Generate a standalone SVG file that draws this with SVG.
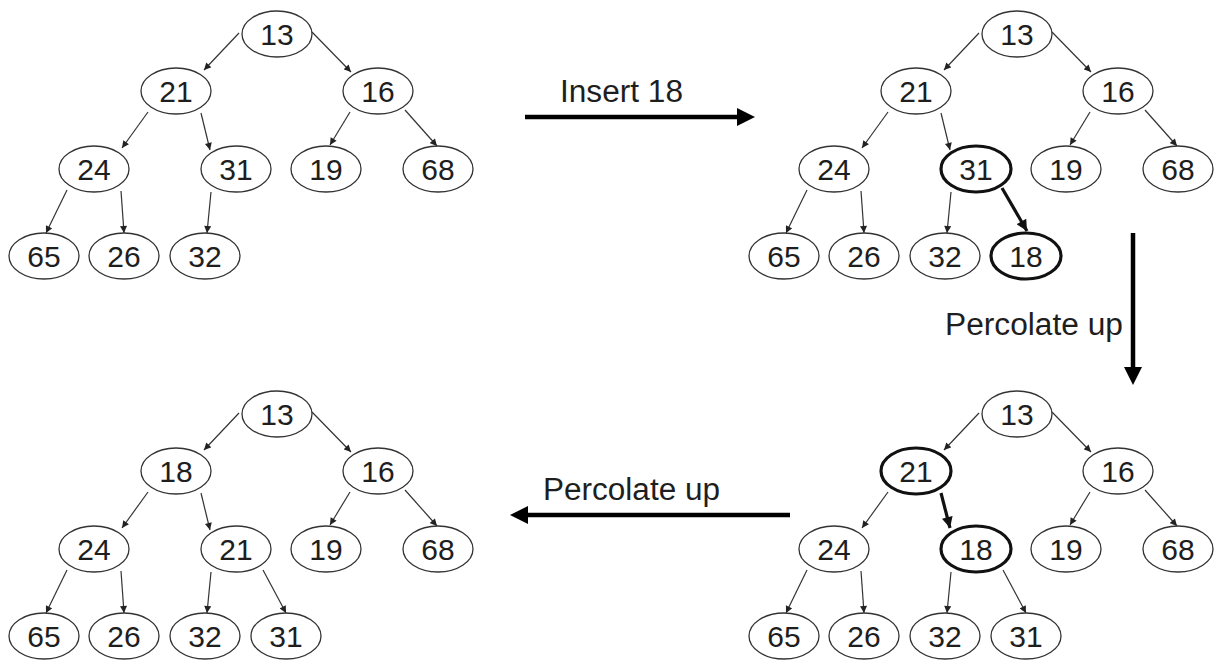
<svg xmlns="http://www.w3.org/2000/svg" width="1218" height="667" viewBox="0 0 1218 667">
<defs>
<style>
.n{fill:#fff;stroke:#333;stroke-width:1.3}
.b{fill:#fff;stroke:#111;stroke-width:3.2}
.t{font-family:"Liberation Sans",Arial,sans-serif;font-size:30px;fill:#1e1e1e;text-anchor:middle}
.lbl{font-family:"Liberation Sans",Arial,sans-serif;font-size:31px;fill:#1e1e1e}
.e{stroke:#333;stroke-width:1.2;fill:none;marker-end:url(#ah)}
.eb{stroke:#111;stroke-width:3.2;fill:none;marker-end:url(#ahb)}
.big{stroke:#000;stroke-width:4.5;fill:none;marker-end:url(#ahbig)}
</style>
<marker id="ah" viewBox="0 0 10 10" refX="10" refY="5" markerWidth="8" markerHeight="7" markerUnits="userSpaceOnUse" orient="auto"><path d="M0,0 L10,5 L0,10 z" fill="#222"/></marker>
<marker id="ahb" viewBox="0 0 10 10" refX="10" refY="5" markerWidth="12" markerHeight="11" markerUnits="userSpaceOnUse" orient="auto"><path d="M0,0 L10,5 L0,10 z" fill="#111"/></marker>
<marker id="ahbig" viewBox="0 0 10 10" refX="0" refY="5" markerWidth="21" markerHeight="18" markerUnits="userSpaceOnUse" orient="auto"><path d="M0,0 L10,5 L0,10 z" fill="#000"/></marker>
</defs>
<rect width="1218" height="667" fill="#fff"/>

<g id="connectors">
<!-- top-left tree -->
<path class="e" d="M239,33 L204,70"/>
<path class="e" d="M312,32 L351,72"/>
<path class="e" d="M148,112 L122,148"/>
<path class="e" d="M201,113 L210,150"/>
<path class="e" d="M350,112 L330,145"/>
<path class="e" d="M405,110 L437,146"/>
<path class="e" d="M67,190 L46,233"/>
<path class="e" d="M121,191 L124,233"/>
<path class="e" d="M211,192 L207,233"/>
<!-- top-right tree -->
<path class="e" d="M979,33 L944,70"/>
<path class="e" d="M1052,32 L1091,72"/>
<path class="e" d="M888,112 L862,148"/>
<path class="e" d="M941,113 L950,150"/>
<path class="e" d="M1090,112 L1070,145"/>
<path class="e" d="M1145,110 L1177,146"/>
<path class="e" d="M807,190 L786,233"/>
<path class="e" d="M861,191 L864,233"/>
<path class="e" d="M951,192 L947,233"/>
<path class="eb" d="M1002,188 L1027,231"/>
<!-- bottom-right tree -->
<path class="e" d="M979,413 L944,450"/>
<path class="e" d="M1052,412 L1091,452"/>
<path class="e" d="M888,492 L862,528"/>
<path class="eb" d="M941,493 L950,528"/>
<path class="e" d="M1090,492 L1070,525"/>
<path class="e" d="M1145,490 L1177,526"/>
<path class="e" d="M807,570 L786,613"/>
<path class="e" d="M861,571 L864,613"/>
<path class="e" d="M951,572 L947,613"/>
<path class="e" d="M1003,570 L1026,613"/>
<!-- bottom-left tree -->
<path class="e" d="M239,413 L204,450"/>
<path class="e" d="M312,412 L351,452"/>
<path class="e" d="M148,492 L122,528"/>
<path class="e" d="M201,493 L210,530"/>
<path class="e" d="M350,492 L330,525"/>
<path class="e" d="M405,490 L437,526"/>
<path class="e" d="M67,570 L46,613"/>
<path class="e" d="M121,571 L124,613"/>
<path class="e" d="M211,572 L207,613"/>
<path class="e" d="M263,570 L286,613"/>
<!-- step arrows -->
<path class="big" d="M525,117 L737,117"/>
<path class="big" d="M1133,233 L1133,367"/>
<path class="big" d="M790,515 L528,515"/>
<text class="lbl" x="560" y="102" textLength="123" lengthAdjust="spacingAndGlyphs">Insert 18</text>
<text class="lbl" x="945" y="335" textLength="178" lengthAdjust="spacingAndGlyphs">Percolate up</text>
<text class="lbl" x="543" y="500" textLength="177" lengthAdjust="spacingAndGlyphs">Percolate up</text>
</g>

<!-- top-left tree nodes -->
<g id="tl-13"><ellipse class="n" cx="277" cy="34" rx="35" ry="23"/><text class="t" x="277" y="45">13</text></g>
<g id="tl-21"><ellipse class="n" cx="176" cy="91" rx="35" ry="23"/><text class="t" x="176" y="102">21</text></g>
<g id="tl-16"><ellipse class="n" cx="378" cy="91" rx="35" ry="23"/><text class="t" x="378" y="102">16</text></g>
<g id="tl-24"><ellipse class="n" cx="94" cy="169" rx="35" ry="23"/><text class="t" x="94" y="180">24</text></g>
<g id="tl-31"><ellipse class="n" cx="236" cy="169" rx="35" ry="23"/><text class="t" x="236" y="180">31</text></g>
<g id="tl-19"><ellipse class="n" cx="326" cy="169" rx="35" ry="23"/><text class="t" x="326" y="180">19</text></g>
<g id="tl-68"><ellipse class="n" cx="438" cy="169" rx="35" ry="23"/><text class="t" x="438" y="180">68</text></g>
<g id="tl-65"><ellipse class="n" cx="44" cy="256" rx="35" ry="23"/><text class="t" x="44" y="267">65</text></g>
<g id="tl-26"><ellipse class="n" cx="124" cy="256" rx="35" ry="23"/><text class="t" x="124" y="267">26</text></g>
<g id="tl-32"><ellipse class="n" cx="205" cy="256" rx="35" ry="23"/><text class="t" x="205" y="267">32</text></g>

<!-- top-right tree nodes -->
<g id="tr-13"><ellipse class="n" cx="1017" cy="34" rx="35" ry="23"/><text class="t" x="1017" y="45">13</text></g>
<g id="tr-21"><ellipse class="n" cx="916" cy="91" rx="35" ry="23"/><text class="t" x="916" y="102">21</text></g>
<g id="tr-16"><ellipse class="n" cx="1118" cy="91" rx="35" ry="23"/><text class="t" x="1118" y="102">16</text></g>
<g id="tr-24"><ellipse class="n" cx="834" cy="169" rx="35" ry="23"/><text class="t" x="834" y="180">24</text></g>
<g id="tr-31"><ellipse class="b" cx="976" cy="169" rx="35" ry="23"/><text class="t" x="976" y="180">31</text></g>
<g id="tr-19"><ellipse class="n" cx="1066" cy="169" rx="35" ry="23"/><text class="t" x="1066" y="180">19</text></g>
<g id="tr-68"><ellipse class="n" cx="1178" cy="169" rx="35" ry="23"/><text class="t" x="1178" y="180">68</text></g>
<g id="tr-65"><ellipse class="n" cx="784" cy="256" rx="35" ry="23"/><text class="t" x="784" y="267">65</text></g>
<g id="tr-26"><ellipse class="n" cx="864" cy="256" rx="35" ry="23"/><text class="t" x="864" y="267">26</text></g>
<g id="tr-32"><ellipse class="n" cx="945" cy="256" rx="35" ry="23"/><text class="t" x="945" y="267">32</text></g>
<g id="tr-18"><ellipse class="b" cx="1026" cy="256" rx="35" ry="23"/><text class="t" x="1026" y="267">18</text></g>

<!-- bottom-right tree nodes -->
<g id="br-13"><ellipse class="n" cx="1017" cy="414" rx="35" ry="23"/><text class="t" x="1017" y="425">13</text></g>
<g id="br-21"><ellipse class="b" cx="916" cy="471" rx="35" ry="23"/><text class="t" x="916" y="482">21</text></g>
<g id="br-16"><ellipse class="n" cx="1118" cy="471" rx="35" ry="23"/><text class="t" x="1118" y="482">16</text></g>
<g id="br-24"><ellipse class="n" cx="834" cy="549" rx="35" ry="23"/><text class="t" x="834" y="560">24</text></g>
<g id="br-18"><ellipse class="b" cx="976" cy="549" rx="35" ry="23"/><text class="t" x="976" y="560">18</text></g>
<g id="br-19"><ellipse class="n" cx="1066" cy="549" rx="35" ry="23"/><text class="t" x="1066" y="560">19</text></g>
<g id="br-68"><ellipse class="n" cx="1178" cy="549" rx="35" ry="23"/><text class="t" x="1178" y="560">68</text></g>
<g id="br-65"><ellipse class="n" cx="784" cy="636" rx="35" ry="23"/><text class="t" x="784" y="647">65</text></g>
<g id="br-26"><ellipse class="n" cx="864" cy="636" rx="35" ry="23"/><text class="t" x="864" y="647">26</text></g>
<g id="br-32"><ellipse class="n" cx="945" cy="636" rx="35" ry="23"/><text class="t" x="945" y="647">32</text></g>
<g id="br-31"><ellipse class="n" cx="1026" cy="636" rx="35" ry="23"/><text class="t" x="1026" y="647">31</text></g>

<!-- bottom-left tree nodes -->
<g id="bl-13"><ellipse class="n" cx="277" cy="414" rx="35" ry="23"/><text class="t" x="277" y="425">13</text></g>
<g id="bl-18"><ellipse class="n" cx="176" cy="471" rx="35" ry="23"/><text class="t" x="176" y="482">18</text></g>
<g id="bl-16"><ellipse class="n" cx="378" cy="471" rx="35" ry="23"/><text class="t" x="378" y="482">16</text></g>
<g id="bl-24"><ellipse class="n" cx="94" cy="549" rx="35" ry="23"/><text class="t" x="94" y="560">24</text></g>
<g id="bl-21"><ellipse class="n" cx="236" cy="549" rx="35" ry="23"/><text class="t" x="236" y="560">21</text></g>
<g id="bl-19"><ellipse class="n" cx="326" cy="549" rx="35" ry="23"/><text class="t" x="326" y="560">19</text></g>
<g id="bl-68"><ellipse class="n" cx="438" cy="549" rx="35" ry="23"/><text class="t" x="438" y="560">68</text></g>
<g id="bl-65"><ellipse class="n" cx="44" cy="636" rx="35" ry="23"/><text class="t" x="44" y="647">65</text></g>
<g id="bl-26"><ellipse class="n" cx="124" cy="636" rx="35" ry="23"/><text class="t" x="124" y="647">26</text></g>
<g id="bl-32"><ellipse class="n" cx="205" cy="636" rx="35" ry="23"/><text class="t" x="205" y="647">32</text></g>
<g id="bl-31"><ellipse class="n" cx="286" cy="636" rx="35" ry="23"/><text class="t" x="286" y="647">31</text></g>
</svg>
